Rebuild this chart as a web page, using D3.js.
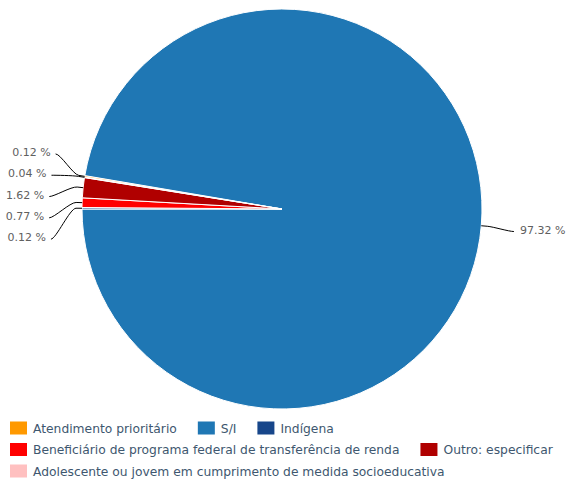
<!DOCTYPE html>
<html>
<head>
<meta charset="utf-8">
<script src="https://cdn.jsdelivr.net/npm/d3@7"></script>
<style>
  body { margin: 0; background: #fff; }
  text { font-family: "DejaVu Sans", Verdana, sans-serif; }
</style>
</head>
<body>
<div id="chart"></div>
<script>
// Data
const categories = [
    'Atendimento prioritário',
    'S/I',
    'Indígena',
    'Beneficiário de programa federal de transferência de renda',
    'Outro: especificar',
    'Adolescente ou jovem em cumprimento de medida socioeducativa'
]
const values = [0.12, 97.32, 0.12, 0.77, 1.62, 0.04]
const colors = ['#ff9900', '#1f77b4', '#17468a', '#ff0000', '#b00000', '#ffc0c0']

const dimension = { width: 568, height: 486 }
const cx = 282, cy = 209, radius = 200
const labelRadius = 233
const lineH = 21.3

const svg = d3.select('#chart')
    .append('svg')
    .attr('width', dimension.width)
    .attr('height', dimension.height)

const total = d3.sum(values)
// first two slices end at 9 o'clock
const start = 1.5 * Math.PI - 2 * Math.PI * (values[0] + values[1]) / total

const pie = d3.pie()
    .sort(null)
    .value(d => d)
    .startAngle(start)
    .endAngle(start + 2 * Math.PI)

const arcs = pie(values)
const arc = d3.arc().innerRadius(0).outerRadius(radius)

const ctr = svg.append('g')
    .attr('transform', `translate(${cx}, ${cy})`)

ctr.selectAll('path')
    .data(arcs)
    .join('path')
    .attr('d', arc)
    .attr('fill', (d, i) => colors[i])
    .attr('stroke', '#fff')
    .attr('stroke-width', 1)
    .attr('stroke-linejoin', 'round')

// label positions
const labels = arcs.map((d, i) => {
    const mid = (d.startAngle + d.endAngle) / 2
    return {
        i: i,
        mid: mid,
        left: Math.sin(mid) < 0,
        target: cy - labelRadius * Math.cos(mid),
        text: values[i].toFixed(2) + ' %'
    }
})

function distribute(list) {
    list.sort((a, b) => a.target - b.target)
    let groups = list.map(l => ({ items: [l] }))
    let moved = true
    while (moved) {
        moved = false
        groups.forEach(g => {
            const t = g.items.map(l => l.target)
            const c = (d3.min(t) + d3.max(t)) / 2
            g.top = c - (g.items.length - 1) * lineH / 2
            g.bottom = g.top + (g.items.length - 1) * lineH
        })
        for (let k = 1; k < groups.length; k++) {
            if (groups[k].top - groups[k - 1].bottom < lineH) {
                groups[k - 1].items = groups[k - 1].items.concat(groups[k].items)
                groups.splice(k, 1)
                moved = true
                break
            }
        }
    }
    groups.forEach(g => {
        const shift = g.items.length > 1 ? 7 : 3
        g.items.forEach((l, k) => { l.y = g.top + k * lineH + shift })
    })
}

distribute(labels.filter(l => l.left))
distribute(labels.filter(l => !l.left))

labels.forEach(l => {
    const dy = l.y - cy
    const dx = Math.sqrt(Math.max(0, labelRadius * labelRadius - dy * dy))
    l.x = l.left ? cx - dx : cx + dx
})

const lbl = svg.append('g')

lbl.selectAll('path')
    .data(labels)
    .join('path')
    .attr('fill', 'none')
    .attr('stroke', '#000')
    .attr('stroke-width', 1)
    .attr('d', l => {
        const bx = cx + (radius + 6) * Math.sin(l.mid)
        const by = cy - (radius + 6) * Math.cos(l.mid)
        const tx = cx + radius * Math.sin(l.mid)
        const ty = cy - radius * Math.cos(l.mid)
        const c1 = l.x + (l.left ? 5 : -5)
        return `M${l.x},${l.y} C${c1},${l.y} ${2 * bx - tx},${2 * by - ty} ${bx},${by} L${tx},${ty}`
    })

lbl.selectAll('text')
    .data(labels)
    .join('text')
    .attr('x', l => l.left ? l.x - 5 : l.x + 6)
    .attr('y', l => l.y + 2)
    .attr('text-anchor', l => l.left ? 'end' : 'start')
    .attr('fill', '#606060')
    .style('font-size', '11px')
    .text(l => l.text)

// legend
const legend = svg.append('g')
let lx = 10, ly = 428
const maxX = 566

categories.forEach((c, i) => {
    const item = legend.append('g')
    const t = item.append('text')
        .attr('fill', '#3e576f')
        .style('font-size', '12.3px')
        .text(c)
    const w = t.node().getComputedTextLength()
    if (lx > 10 && lx + 23 + w > maxX) {
        lx = 10
        ly += 21.5
    }
    item.append('rect')
        .attr('x', lx)
        .attr('y', ly - 6.5)
        .attr('width', 17)
        .attr('height', 13)
        .attr('fill', colors[i])
    t.attr('x', lx + 23).attr('y', ly + 4.5)
    lx += 23 + w + 21
})
</script>
</body>
</html>
